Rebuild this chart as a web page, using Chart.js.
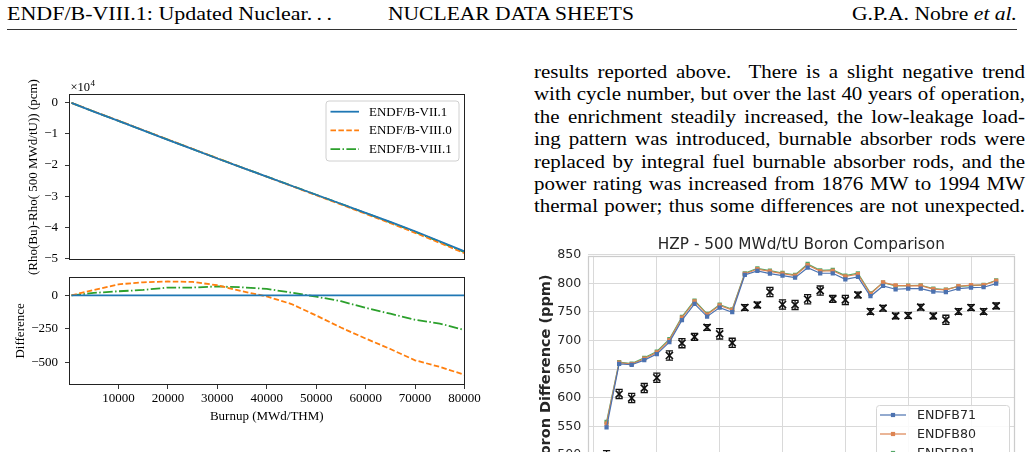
<!DOCTYPE html>
<html>
<head>
<meta charset="utf-8">
<script src="https://cdn.jsdelivr.net/npm/chart.js@4.4.1/dist/chart.umd.min.js"></script>
<style>
  html, body { margin: 0; padding: 0; background: #fff; }
  body { width: 1032px; height: 452px; overflow: hidden; position: relative; font-family: "Liberation Serif", serif; color: #000; }
  .hdr { position: absolute; top: 5px; font-size: 18px; line-height: 18px; white-space: nowrap; display: inline-block; transform-origin: 0 0; }
  #rule { position: absolute; left: 7px; top: 29px; width: 1010px; height: 1px; background: #333; }
  #para { position: absolute; left: 534px; top: 61px; width: 491px; font-size: 18px; line-height: 22.4px; transform-origin: 0 0; }
  #para div { text-align: left; }
  #para.fitted div { text-align: justify; text-align-last: justify; }
  canvas { position: absolute; }
</style>
</head>
<body>
<span class="hdr" id="hLeft" style="left:7px">ENDF/B-VIII.1: Updated Nuclear.&#8201;.&#8201;.</span>
<span class="hdr" id="hMid" style="left:388px">NUCLEAR DATA SHEETS</span>
<span class="hdr" id="hRight" style="left:852px">G.P.A. Nobre <i>et al.</i></span>
<div id="rule"></div>

<div id="para">
  <div><span>results reported above.&nbsp; There is a slight negative trend</span></div>
  <div><span>with cycle number, but over the last 40 years of operation,</span></div>
  <div><span>the enrichment steadily increased, the low-leakage load-</span></div>
  <div><span>ing pattern was introduced, burnable absorber rods were</span></div>
  <div><span>replaced by integral fuel burnable absorber rods, and the</span></div>
  <div><span>power rating was increased from 1876 MW to 1994 MW</span></div>
  <div><span>thermal power; thus some differences are not unexpected.</span></div>
</div>

<canvas id="rhoChart" width="490" height="275" style="left:0;top:0"></canvas>
<canvas id="diffChart" width="490" height="190" style="left:0;top:262px"></canvas>
<canvas id="boronChart" width="502" height="290" style="left:530px;top:230px"></canvas>

<script>
// ---- left figure: reactivity vs burnup ----
const burnup = [500, 5000, 10000, 15000, 20000, 25000, 30000, 35000, 40000, 45000, 50000, 55000, 60000, 65000, 70000, 75000, 80000];
const rhoVII1  = [0, -2800, -5800, -8850, -11900, -14900, -17900, -20850, -23750, -26650, -29550, -32450, -35350, -38300, -41300, -44500, -47750];
const rhoVIII0 = [0, -2760, -5718, -8753, -11797, -14800, -17825, -20820, -23758, -26715, -29700, -32690, -35672, -38700, -41784, -45033, -48342];
const rhoVIII1 = [0, -2782, -5770, -8810, -11842, -14842, -17834, -20790, -23702, -26630, -29560, -32494, -35443, -38437, -41482, -44710, -48008];
const diffVII1  = [0, 0, 0, 0, 0, 0, 0, 0, 0, 0, 0, 0, 0, 0, 0, 0, 0];
const diffVIII0 = [0, 40, 82, 97, 103, 100, 75, 30, -8, -65, -150, -240, -322, -400, -484, -533, -592];
const diffVIII1 = [0, 18, 30, 40, 58, 58, 66, 60, 48, 20, -10, -44, -93, -137, -182, -210, -258];
const rhoTicks = [0, -10000, -20000, -30000, -40000, -50000];
const diffTicks = [0, -250, -500];
const burnupTicks = [10000, 20000, 30000, 40000, 50000, 60000, 70000, 80000];
const libLabels = ['ENDF/B-VII.1', 'ENDF/B-VIII.0', 'ENDF/B-VIII.1'];

// ---- right figure: HZP boron by cycle ----
const cycles = [1, 2, 3, 4, 5, 6, 7, 8, 9, 10, 11, 12, 13, 14, 15, 16, 17, 18, 19, 20, 21, 22, 23, 24, 25, 26, 27, 28, 29, 30, 31, 32];
const boron71 = [548.7, 659.6, 657.9, 666, 676.5, 697.4, 735.7, 764.1, 742, 757.7, 749.6, 814.7, 821.6, 817, 813.5, 810, 827.4, 817.6, 817.6, 807.1, 811.2, 777.5, 795.5, 789.7, 790.8, 790.8, 785.6, 784.5, 790.8, 792.6, 793.2, 799.6];
const boron80 = [555, 661.5, 659, 668.5, 679.5, 701, 740, 768.5, 745.5, 761.5, 753.5, 816.5, 825, 821, 817, 813.5, 832, 821.5, 822, 812, 816, 781.5, 801.8, 796.5, 795.5, 796, 790, 788.5, 795, 796.8, 797, 804.5];
const boron81 = [558, 662.5, 660, 670, 681, 702.6, 741.5, 770, 746.7, 763, 754.8, 817.6, 826.3, 822.2, 818.1, 814.7, 833.8, 822.8, 823.4, 813.5, 817.6, 782.7, 801.3, 795.5, 796, 796.7, 790.8, 789.1, 794.9, 796, 797.2, 805.4];
const boronMeas = [497, 606.8, 599.8, 617.2, 635.2, 674.1, 695.6, 706.6, 723, 711.9, 696.2, 757.8, 762.4, 785, 763, 762.4, 772.3, 787.4, 772.8, 771.1, 779.8, 750.8, 756.6, 743.2, 743.8, 758.3, 743.2, 736.3, 750.8, 757.8, 750.8, 760.7];
const boronErr = [11, 8, 8, 8, 8, 8, 8, 6, 5, 9, 8, 5, 5, 8, 8, 8, 8, 8, 6, 8, 5, 5, 5, 5, 5, 5, 5, 8, 5, 5, 5, 5];
const boronTicks = [450, 500, 550, 600, 650, 700, 750, 800, 850];
const cycleTicks = [0, 5, 10, 15, 20, 25, 30];
const boronLabels = ['ENDFB71', 'ENDFB80', 'ENDFB81'];

// fit the running head to the widths of the original
function fitWidth(id, target) {
  const el = document.getElementById(id);
  const w = el.getBoundingClientRect().width;
  el.style.transform = 'scaleX(' + (target / w) + ')';
}
fitWidth('hLeft', 325);
fitWidth('hMid', 246);
fitWidth('hRight', 165);

// the serif here is narrower than the original, so widen the whole column a little
(function fitParagraph() {
  const para = document.getElementById('para');
  const spans = para.querySelectorAll('span');
  let widest = 0;
  spans.forEach((s) => { widest = Math.max(widest, s.getBoundingClientRect().width); });
  const inner = Math.ceil(widest) + 2;
  para.style.width = inner + 'px';
  para.style.transform = 'scaleX(' + (491 / inner) + ')';
  para.classList.add('fitted');
})();

const minus = (v) => (v < 0 ? '\u2212' + Math.abs(v) : String(v));
const pts = (xs, ys) => xs.map((x, i) => ({ x: x, y: ys[i] }));
const setTicks = (list) => (scale) => { scale.ticks = list.map((v) => ({ value: v })); };

// box around the plot area
const frame = {
  id: 'frame',
  afterDatasetsDraw(chart, args, o) {
    if (!o.lineColor) return;
    const { ctx, chartArea: a } = chart;
    const l = Math.round(a.left) + 0.5, t = Math.round(a.top) + 0.5;
    const r = Math.round(a.right) - 0.5, b = Math.round(a.bottom) - 0.5;
    ctx.save();
    ctx.strokeStyle = o.lineColor;
    ctx.lineWidth = o.lineWidth;
    ctx.strokeRect(l, t, r - l, b - t);
    ctx.restore();
  }
};

// matplotlib-like legend box
const boxLegend = {
  id: 'boxLegend',
  afterDraw(chart, args, o) {
    if (!o.width) return;
    const ctx = chart.ctx;
    const x = o.left + 0.5, y = o.top + 0.5, w = o.width, h = o.height, r = o.radius;
    ctx.save();
    ctx.beginPath();
    ctx.moveTo(x + r, y);
    ctx.lineTo(x + w - r, y); ctx.quadraticCurveTo(x + w, y, x + w, y + r);
    ctx.lineTo(x + w, y + h - r); ctx.quadraticCurveTo(x + w, y + h, x + w - r, y + h);
    ctx.lineTo(x + r, y + h); ctx.quadraticCurveTo(x, y + h, x, y + h - r);
    ctx.lineTo(x, y + r); ctx.quadraticCurveTo(x, y, x + r, y);
    ctx.closePath();
    ctx.fillStyle = 'rgba(255,255,255,0.85)';
    ctx.fill();
    ctx.lineWidth = 1;
    ctx.strokeStyle = o.edge;
    ctx.stroke();
    ctx.font = o.textFont;
    ctx.textBaseline = 'middle';
    chart.data.datasets.slice(0, o.count).forEach((ds, i) => {
      const yy = o.top + o.firstRow + i * o.rowHeight;
      ctx.setLineDash(ds.borderDash || []);
      ctx.strokeStyle = ds.borderColor;
      ctx.lineWidth = ds.borderWidth;
      ctx.beginPath();
      ctx.moveTo(o.left + o.lineStart, yy);
      ctx.lineTo(o.left + o.lineEnd, yy);
      ctx.stroke();
      ctx.setLineDash([]);
      if (o.marker) {
        const s = o.marker, mx = o.left + (o.lineStart + o.lineEnd) / 2;
        ctx.fillStyle = ds.pointBackgroundColor;
        ctx.fillRect(mx - s / 2, yy - s / 2, s, s);
      }
      ctx.fillStyle = o.textColor;
      ctx.fillText(ds.label, o.left + o.textStart, yy + 0.5);
    });
    ctx.restore();
  }
};

// the "x10^4" offset text above the y axis
const offsetText = {
  id: 'offsetText',
  afterDraw(chart, args, o) {
    if (!o.base) return;
    const { ctx, chartArea } = chart;
    const x = chartArea.left + 1.5, y = chartArea.top - 3;
    ctx.save();
    ctx.fillStyle = '#000';
    ctx.font = '12.5px "Liberation Serif"';
    ctx.fillText(o.base, x, y);
    const w = ctx.measureText(o.base).width;
    ctx.font = '9px "Liberation Serif"';
    ctx.fillText(o.power, x + w + 0.5, y - 5.5);
    ctx.restore();
  }
};

const serif = { family: 'Liberation Serif', size: 13 };
const tickGrid = { drawOnChartArea: false, drawTicks: true, tickLength: 4, color: '#000', lineWidth: 0.8 };
const mplColors = ['#1f77b4', '#ff7f0e', '#2ca02c'];
const mplDash = [[], [5.5, 2.4], [9.6, 2.4, 1.5, 2.4]];

// top panel
new Chart(document.getElementById('rhoChart'), {
  type: 'line',
  data: {
    datasets: [rhoVII1, rhoVIII0, rhoVIII1].map((ys, i) => ({
      label: libLabels[i], data: pts(burnup, ys), borderColor: mplColors[i],
      borderWidth: 1.8, borderDash: mplDash[i], pointRadius: 0, fill: false
    }))
  },
  options: {
    responsive: false, animation: false, events: [],
    layout: { padding: { left: 0, top: 94, right: 25.5, bottom: 8 } },
    plugins: {
      legend: { display: false }, tooltip: { enabled: false },
      frame: { lineColor: '#222', lineWidth: 1 },
      offsetText: { base: '\u00d710', power: '4' },
      boxLegend: {
        left: 325.5, top: 100.5, width: 133, height: 60, radius: 3, edge: '#d0d0d0',
        count: 3, firstRow: 11.2, rowHeight: 18.7, lineStart: 5, lineEnd: 33.5, textStart: 43.5,
        textFont: '13px "Liberation Serif"', textColor: '#000'
      }
    },
    scales: {
      x: { type: 'linear', min: 0, max: 80000, display: false },
      y: {
        type: 'linear', min: -50600, max: 2850,
        afterBuildTicks: setTicks(rhoTicks),
        afterFit: (s) => { s.width = 69; },
        ticks: { callback: (v) => minus(v / 10000), font: serif, color: '#000', padding: 7 },
        grid: tickGrid, border: { display: false },
        title: { display: true, text: '(Rho(Bu)-Rho( 500 MWd/tU)) (pcm)', font: serif, color: '#000', padding: { top: 26, bottom: 0 } }
      }
    }
  },
  plugins: [frame, boxLegend, offsetText]
});

// bottom panel
new Chart(document.getElementById('diffChart'), {
  type: 'line',
  data: {
    datasets: [diffVII1, diffVIII0, diffVIII1].map((ys, i) => ({
      label: libLabels[i], data: pts(burnup, ys), borderColor: mplColors[i],
      borderWidth: 1.8, borderDash: mplDash[i], pointRadius: 0, fill: false
    }))
  },
  options: {
    responsive: false, animation: false, events: [],
    layout: { padding: { left: 0, top: 8.3, right: 25.5, bottom: 0 } },
    plugins: { legend: { display: false }, tooltip: { enabled: false }, frame: { lineColor: '#222', lineWidth: 1 } },
    scales: {
      x: {
        type: 'linear', min: 0, max: 80000,
        afterBuildTicks: setTicks(burnupTicks),
        afterFit: (s) => { s.height = 67; },
        ticks: { callback: (v) => String(v), font: serif, color: '#000', padding: 2, maxRotation: 0 },
        grid: tickGrid, border: { display: false },
        title: { display: true, text: 'Burnup (MWd/THM)', font: serif, color: '#000', padding: { top: 0, bottom: 28 } }
      },
      y: {
        type: 'linear', min: -668, max: 138,
        afterBuildTicks: setTicks(diffTicks),
        afterFit: (s) => { s.width = 69; },
        ticks: { callback: (v) => minus(v), font: serif, color: '#000', padding: 7 },
        grid: tickGrid, border: { display: false },
        title: { display: true, text: 'Difference', font: serif, color: '#000', padding: { top: 13, bottom: 0 } }
      }
    }
  },
  plugins: [frame]
});

// right figure
const sbColors = ['#4c72b0', '#dd8452', '#55a868'];
const errSegments = [];
const capPoints = [];
cycles.forEach((c, i) => {
  errSegments.push({ x: c, y: boronMeas[i] - boronErr[i] }, { x: c, y: boronMeas[i] + boronErr[i] }, { x: c, y: null });
  capPoints.push({ x: c, y: boronMeas[i] - boronErr[i] }, { x: c, y: boronMeas[i] + boronErr[i] });
});
const dejavu = { family: 'DejaVu Sans', size: 12.6 };

new Chart(document.getElementById('boronChart'), {
  type: 'line',
  data: {
    datasets: [
      ...[boron71, boron80, boron81].map((ys, i) => ({
        label: boronLabels[i], data: pts(cycles, ys), borderColor: sbColors[i], backgroundColor: sbColors[i],
        pointBackgroundColor: sbColors[i], pointBorderColor: sbColors[i], borderWidth: 1.2,
        pointStyle: 'rect', pointRadius: 3, pointBorderWidth: 0, fill: false
      })),
      { label: 'err', data: errSegments, borderColor: '#111', borderWidth: 1.3, pointRadius: 0, fill: false },
      { label: 'caps', data: capPoints, showLine: false, pointStyle: 'line', pointRadius: 3.6, pointBorderWidth: 1.3, pointBorderColor: '#111' },
      { label: 'Measured', data: pts(cycles, boronMeas), showLine: false, pointStyle: 'crossRot', pointRadius: 5, pointBorderWidth: 1.7, pointBorderColor: '#111' }
    ]
  },
  options: {
    responsive: false, animation: false, events: [],
    layout: { padding: { left: 0, top: 0, right: 17, bottom: 0 } },
    plugins: {
      legend: { display: false }, tooltip: { enabled: false },
      title: {
        display: true, fullSize: false, text: 'HZP - 500 MWd/tU Boron Comparison',
        font: { family: 'DejaVu Sans', size: 15.3, weight: 'normal' }, color: '#262626',
        padding: { top: 6.2, bottom: 1.3 }
      },
      frame: { lineColor: '#cccccc', lineWidth: 1.25 },
      boxLegend: {
        left: 346, top: 175, width: 133, height: 80, radius: 3, edge: '#d6d6d6',
        count: 3, firstRow: 10, rowHeight: 19, lineStart: 4, lineEnd: 30, textStart: 41, marker: 4.2,
        textFont: '12.6px "DejaVu Sans"', textColor: '#262626'
      }
    },
    scales: {
      x: {
        type: 'linear', min: -0.5, max: 33.5,
        afterBuildTicks: setTicks(cycleTicks),
        afterFit: (s) => { s.height = 35; },
        ticks: { font: dejavu, color: '#262626', padding: 6 },
        grid: { color: '#d9d9d9', lineWidth: 1, drawTicks: false }, border: { display: false }
      },
      y: {
        type: 'linear', min: 448, max: 848,
        afterBuildTicks: setTicks(boronTicks),
        afterFit: (s) => { s.width = 57.7; },
        ticks: { font: dejavu, color: '#262626', padding: 6.5 },
        grid: { color: '#d9d9d9', lineWidth: 1, drawTicks: false }, border: { display: false },
        title: { display: true, text: 'Boron Difference (ppm)', font: { family: 'DejaVu Sans', size: 14.5, weight: 'bold' }, color: '#262626', padding: { top: 7.8, bottom: 0 } }
      }
    }
  },
  plugins: [frame, boxLegend]
});
</script>
</body>
</html>
